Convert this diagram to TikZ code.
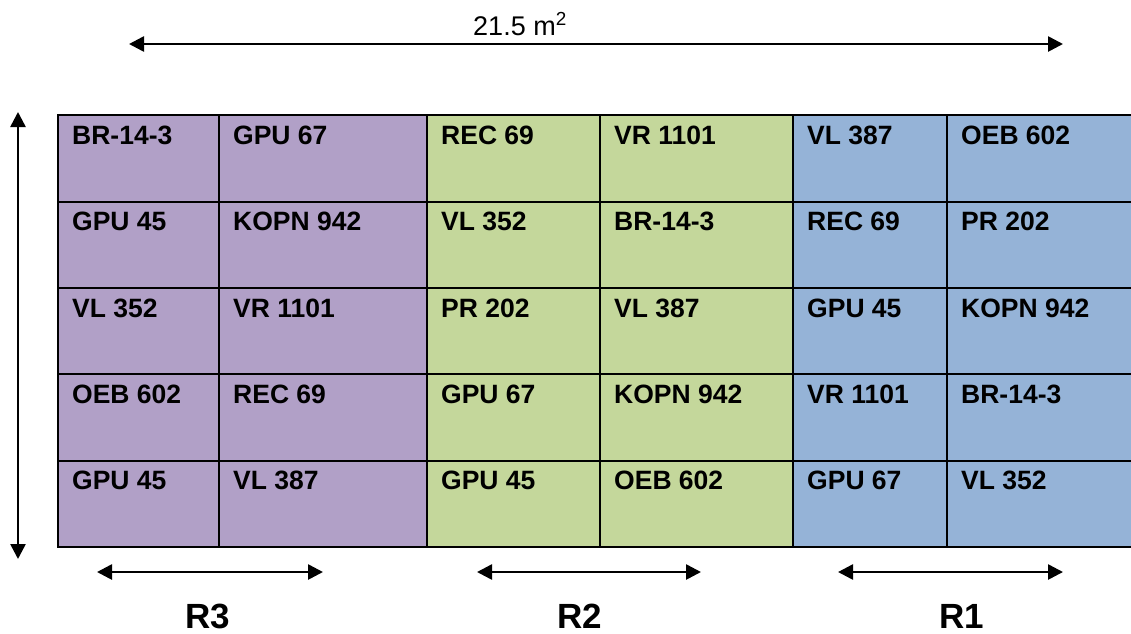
\documentclass[tikz,border=0pt]{standalone}
\usepackage{fontspec}
\setmainfont{Liberation Sans}
\usetikzlibrary{arrows.meta}
\definecolor{cpurple}{HTML}{B1A0C7}
\definecolor{cgreen}{HTML}{C4D79B}
\definecolor{cblue}{HTML}{95B3D7}
\begin{document}
\begin{tikzpicture}[x=1pt,y=-1pt,
  cell/.style={draw=black,line width=2pt,inner sep=0pt,anchor=north west,minimum height=86.5pt},
  celltext/.style={anchor=base west,inner sep=0pt,font=\bfseries\fontsize{26.5}{30}\selectfont},
  dimarrow/.style={line width=2.6pt,arrows={Triangle[length=15pt,width=15pt]-Triangle[length=15pt,width=15pt]}},
  reglabel/.style={anchor=base,inner sep=0pt,font=\bfseries\fontsize{35}{40}\selectfont}]
\useasboundingbox (0,0) rectangle (1131,633);
% cells
\foreach \c/\xl/\w/\col in {1/57/161/cpurple,2/218/208/cpurple,3/426/173/cgreen,4/599/193/cgreen,5/792/154/cblue,6/946/200/cblue}{
  \foreach \r/\yt in {1/114,2/200.5,3/287,4/373,5/459.5}{
    \node[cell,fill=\col,minimum width=\w pt] (c\r\c) at (\xl,\yt) {};
  }
}
% cell texts
\foreach \r/\c/\txt in {
  1/1/BR-14-3, 1/2/GPU 67, 1/3/REC 69, 1/4/VR 1101, 1/5/VL 387, 1/6/OEB 602,
  2/1/GPU 45, 2/2/KOPN 942, 2/3/VL 352, 2/4/BR-14-3, 2/5/REC 69, 2/6/PR 202,
  3/1/VL 352, 3/2/VR 1101, 3/3/PR 202, 3/4/VL 387, 3/5/GPU 45, 3/6/KOPN 942,
  4/1/OEB 602, 4/2/REC 69, 4/3/GPU 67, 4/4/KOPN 942, 4/5/VR 1101, 4/6/BR-14-3,
  5/1/GPU 45, 5/2/VL 387, 5/3/GPU 45, 5/4/OEB 602, 5/5/GPU 67, 5/6/VL 352}{
  \node[celltext] (t\r\c) at ([xshift=15pt,yshift=-30pt]c\r\c.north west) {\txt};
}
% dimension arrows
\coordinate (topL) at (129,44);
\coordinate (topR) at (1063,44);
\draw[dimarrow] (topL) -- (topR);
\node[anchor=base,inner sep=0pt,font=\fontsize{27}{30}\selectfont] (area) at (520,35) {21.5 m\textsuperscript{2}};
\coordinate (vT) at (18,112);
\coordinate (vB) at (18,559);
\draw[dimarrow] (vT) -- (vB);
\coordinate (r3L) at (97,572);
\coordinate (r3R) at (323,572);
\draw[dimarrow] (r3L) -- (r3R);
\coordinate (r2L) at (477,572);
\coordinate (r2R) at (701,572);
\draw[dimarrow] (r2L) -- (r2R);
\coordinate (r1L) at (838,572);
\coordinate (r1R) at (1063,572);
\draw[dimarrow] (r1L) -- (r1R);
\node[reglabel] (R3) at (208,628) {R3};
\node[reglabel] (R2) at (580,628) {R2};
\node[reglabel] (R1) at (962,628) {R1};
\end{tikzpicture}
\end{document}
